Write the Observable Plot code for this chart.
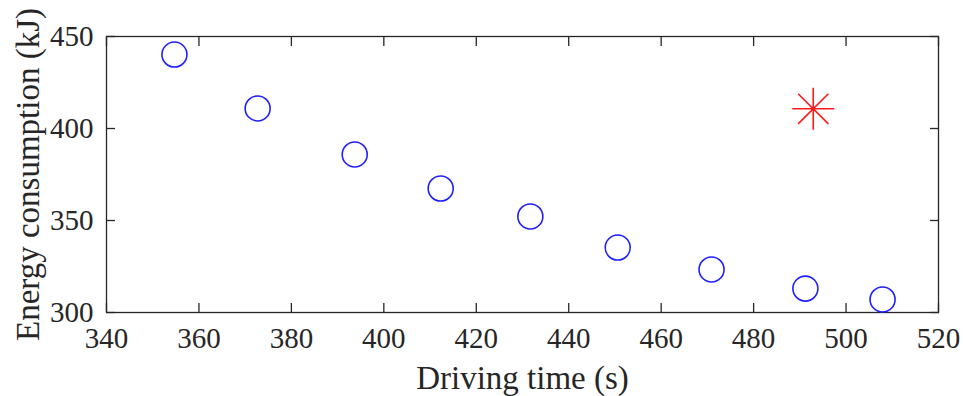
<!DOCTYPE html>
<html>
<head>
<meta charset="utf-8">
<script src="https://cdn.jsdelivr.net/npm/d3@7"></script>
<script src="https://cdn.jsdelivr.net/npm/@observablehq/plot@0.6"></script>
<style>
  body { margin: 0; background: #fff; }
  #chart svg { font-family: "Liberation Serif", "DejaVu Serif", serif; }
</style>
</head>
<body>
<div id="chart"></div>
<script>
const drivingTime = [354.7, 372.7, 393.7, 412.3, 431.7, 450.6, 470.9, 491.2, 507.9];
const energy = [440.2, 410.9, 385.9, 367.4, 352.2, 335.3, 323.4, 313.0, 307.1];
const refTime = [492.9];
const refEnergy = [410.7];
const xTicks = [340, 360, 380, 400, 420, 440, 460, 480, 500, 520];
const yTicks = [300, 350, 400, 450];
const xLabel = "Driving time (s)";
const yLabel = "Energy consumption (kJ)";

const circles = drivingTime.map((t, i) => ({t, e: energy[i]}));
const stars = refTime.map((t, i) => ({t, e: refEnergy[i]}));

const asterisk = {
  draw(ctx, size) {
    const R = Math.sqrt(size / Math.PI);
    const d = R * 0.72;
    ctx.moveTo(0, -R); ctx.lineTo(0, R);
    ctx.moveTo(-R, 0); ctx.lineTo(R, 0);
    ctx.moveTo(-d, -d); ctx.lineTo(d, d);
    ctx.moveTo(-d, d); ctx.lineTo(d, -d);
  }
};

const axisColor = "#262626";
const chart = Plot.plot({
  width: 963,
  height: 396,
  marginLeft: 106,
  marginRight: 25,
  marginTop: 36,
  marginBottom: 84,
  style: {fontFamily: "Liberation Serif, serif", fontSize: "29px", color: axisColor, background: "#fff"},
  x: {domain: [340, 520], axis: null},
  y: {domain: [300, 450], axis: null},
  marks: [
    Plot.frame({stroke: axisColor, strokeWidth: 1.3}),
    Plot.axisX(xTicks, {anchor: "bottom", tickSize: -9, text: null, label: null, stroke: axisColor, strokeWidth: 1.3}),
    Plot.axisX(xTicks, {anchor: "top", tickSize: -9, text: null, label: null, stroke: axisColor, strokeWidth: 1.3}),
    Plot.axisY(yTicks, {anchor: "left", tickSize: -9, text: null, label: null, stroke: axisColor, strokeWidth: 1.3}),
    Plot.axisY(yTicks, {anchor: "right", tickSize: -9, text: null, label: null, stroke: axisColor, strokeWidth: 1.3}),
    Plot.text(xTicks, {x: d => d, frameAnchor: "bottom", lineAnchor: "middle", dy: 26, fontSize: 29, fill: axisColor, text: d => String(d)}),
    Plot.text(yTicks, {y: d => d, frameAnchor: "left", lineAnchor: "middle", textAnchor: "end", dx: -13, fontSize: 29, fill: axisColor, text: d => String(d)}),
    Plot.text([xLabel], {frameAnchor: "bottom", lineAnchor: "middle", dy: 66, fontSize: 33, fill: axisColor}),
    Plot.text([yLabel], {frameAnchor: "left", dx: -78, rotate: -90, textAnchor: "middle", fontSize: 33, fill: axisColor}),
    Plot.dot(circles, {x: "t", y: "e", r: 12.5, stroke: "#1f1fff", strokeWidth: 1.6, fill: "none"}),
    Plot.dot(stars, {x: "t", y: "e", r: 21, symbol: asterisk, stroke: "#ff1a1a", strokeWidth: 1.6, fill: "none"})
  ]
});
document.getElementById("chart").appendChild(chart);
</script>
</body>
</html>
